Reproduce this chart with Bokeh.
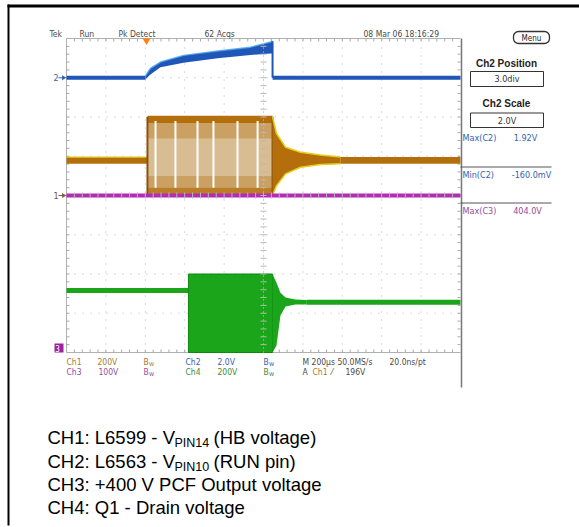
import math
from bokeh.plotting import figure
from bokeh.models import Range1d, ColumnDataSource
from bokeh.embed import file_html
from bokeh.resources import INLINE
from bokeh.core.properties import value

# ---------------- values ----------------
# time in µs (200 µs/div, 10 div), amplitude in screen divisions (0 = centre, ±4 div)
time_div_us = 200
grid_x_ticks = [200, 400, 600, 800, 1000, 1200, 1400, 1600, 1800]
grid_y_ticks = [-3, -2, -1, 0, 1, 2, 3]
trigger_t = 406

# CH2 - L6563 RUN pin (blue)
ch2_level = 3.0
ch2_rise_t = [401, 426, 477, 594, 767, 934, 1036, 1046]
ch2_rise_hi = [3.05, 3.24, 3.40, 3.57, 3.68, 3.78, 3.91, 3.93]
ch2_rise_lo = [2.96, 3.08, 3.27, 3.38, 3.50, 3.58, 3.62, 3.62]

# CH1 - L6599 half-bridge voltage (orange)
ch1_ground = 0.0
ch1_idle_hi = 0.98
ch1_idle_lo = 0.81
ch1_burst_t = [411, 1046]
ch1_burst_lo, ch1_burst_hi = 0.0, 2.0
ch1_gap_t = [452, 553, 665, 746, 868, 970]
ch1_ring_t = [1046, 1066, 1112, 1188, 1289, 1391]
ch1_ring_hi = [2.0, 1.58, 1.23, 1.10, 1.03, 0.98]
ch1_ring_lo = [0.0, 0.25, 0.55, 0.72, 0.79, 0.81]

# CH3 - +400 V PFC output (magenta)
ch3_level = 0.0

# CH4 - Q1 drain voltage (green)
ch4_idle_level = -2.42
ch4_burst_t = [619, 1046]
ch4_burst_lo, ch4_burst_hi = -4.0, -2.0
ch4_ring_t = [1046, 1066, 1086, 1112, 1162, 1220]
ch4_ring_hi = [-2.0, -2.22, -2.48, -2.60, -2.65, -2.66]
ch4_ring_lo = [-4.0, -3.82, -3.06, -2.83, -2.78, -2.78]
ch4_after_level = -2.72

# readout texts
status_texts = ["Tek", "Run", "Pk Detect", "62 Acqs", "08 Mar 06 18:16:29"]
row1_texts = ["Ch1", "200V", "B", "Ch2", "2.0V", "B", "M 200\u00b5s 50.0MS/s", "20.0ns/pt"]
row2_texts = ["Ch3", "100V", "B", "Ch4", "200V", "B", "A", "Ch1", "\u2044", "196V"]
panel_titles = ["Ch2 Position", "Ch2 Scale"]
panel_values = ["3.0div", "2.0V"]
meas_names = ["Max(C2)", "Min(C2)", "Max(C3)"]
meas_values = ["1.92V", "-160.0mV", "404.0V"]
caption_main = ["CH1: L6599 - V", "CH2: L6563 - V", "CH3: +400 V PCF Output voltage", "CH4: Q1 - Drain voltage"]
caption_sub = ["PIN14", "PIN10"]
caption_tail = ["(HB voltage)", "(RUN pin)"]

# ---------------- colours / layout ----------------
C_BLUE, C_CYAN = "#1f56b8", "#4aa8e8"
C_BROWN, C_TAN, C_YEL, C_DKBR = "#b46e0c", "#d8bc92", "#e4cf1e", "#8c5210"
C_PURP = "#b42cb4"
C_GREEN, C_DKGR = "#1aa51a", "#0c8a0c"
T1, T2, T3, T4, TG = "#a47c34", "#3262b0", "#944ca0", "#3e8a3e", "#4a4a4a"
NARROW = "Liberation Sans Narrow, DejaVu Sans Condensed, Liberation Sans, sans-serif"
SANS = "Liberation Sans, Arial, sans-serif"

W, H = 579, 527
OX, OY = 0, 0
GL, GR, GT, GB = 66, 460, 38, 352

p = figure(width=W, height=H, x_range=Range1d(OX, OX + W), y_range=Range1d(OY + H, OY),
           min_border=0, toolbar_location=None, output_backend="svg",
           x_axis_type=None, y_axis_type=None, outline_line_color=None)
p.background_fill_color = "white"
p.border_fill_color = "white"

t_span = 10 * time_div_us
tpp = t_span / (GR - GL)
vpp = 8.0 / (GB - GT)
p.extra_x_ranges = {"t": Range1d(0 - (GL - OX) * tpp, t_span + (OX + W - GR) * tpp)}
p.extra_y_ranges = {"v": Range1d(-4 - (OY + H - GB) * vpp, 4 + (GT - OY) * vpp)}
TV = dict(x_range_name="t", y_range_name="v")

# ---- graticule ----
GCOL = "#b4b4b4"
p.segment(x0=grid_x_ticks, y0=[-4] * len(grid_x_ticks), x1=grid_x_ticks, y1=[4] * len(grid_x_ticks),
          line_color=GCOL, line_width=1, line_dash="1 7", **TV)
p.segment(x0=[0] * len(grid_y_ticks), y0=grid_y_ticks, x1=[t_span] * len(grid_y_ticks), y1=grid_y_ticks,
          line_color=GCOL, line_width=1, line_dash="1 7", **TV)
p.segment(x0=[0, 0, 0], y0=[4, -4, -4], x1=[t_span, t_span, 0], y1=[4, -4, 4],
          line_color="#b0b0b0", line_width=1, **TV)
t_minor = [time_div_us / 5 * k for k in range(1, 50)]
v_minor = [-4 + 0.2 * k for k in range(1, 40)]
p.segment(x0=t_minor, y0=[GT] * len(t_minor), x1=t_minor, y1=[GT + 3] * len(t_minor),
          line_color="#a8a8a8", x_range_name="t")
p.segment(x0=t_minor, y0=[GB] * len(t_minor), x1=t_minor, y1=[GB - 3] * len(t_minor),
          line_color="#a8a8a8", x_range_name="t")
p.segment(x0=[GL] * len(v_minor), y0=v_minor, x1=[GL + 3] * len(v_minor), y1=v_minor,
          line_color="#a8a8a8", y_range_name="v")
p.segment(x0=[GR] * len(v_minor), y0=v_minor, x1=[GR - 3] * len(v_minor), y1=v_minor,
          line_color="#a8a8a8", y_range_name="v")

# ---- CH2 (blue) ----
p.line(x=[0, ch2_rise_t[0]], y=[ch2_level, ch2_level], line_color=C_BLUE, line_width=4, **TV)
p.line(x=[ch2_rise_t[-1], t_span], y=[ch2_level, ch2_level], line_color=C_BLUE, line_width=4, **TV)
p.varea(x=ch2_rise_t, y1=ch2_rise_lo, y2=ch2_rise_hi, fill_color=C_BLUE, **TV)
p.line(x=ch2_rise_t, y=ch2_rise_hi, line_color=C_CYAN, line_width=1.5, line_alpha=0.8, **TV)
p.segment(x0=[ch2_rise_t[-1]], y0=[ch2_rise_hi[-1]], x1=[ch2_rise_t[-1]], y1=[ch2_level],
          line_color=C_BLUE, line_width=2, **TV)

# ---- CH1 (orange) ----
p.varea(x=[0, ch1_burst_t[0]], y1=[ch1_idle_lo] * 2, y2=[ch1_idle_hi] * 2, fill_color=C_BROWN, **TV)
p.line(x=[0, ch1_burst_t[0]], y=[ch1_idle_hi] * 2, line_color=C_YEL, line_width=1.2, **TV)
p.quad(left=[ch1_burst_t[0]], right=[ch1_burst_t[1]], bottom=[ch1_burst_lo], top=[ch1_burst_hi],
       fill_color=C_TAN, line_color=None, **TV)
# darker switching texture in the upper and lower parts of the burst
p.quad(left=[ch1_burst_t[0]] * 2, right=[ch1_burst_t[1]] * 2,
       bottom=[ch1_burst_hi - 0.55, ch1_burst_lo + 0.2], top=[ch1_burst_hi - 0.15, ch1_burst_lo + 0.5],
       fill_color=C_BROWN, fill_alpha=0.35, line_color=None, **TV)
p.quad(left=[ch1_burst_t[0]], right=[ch1_burst_t[1]], bottom=[ch1_burst_hi - 0.15], top=[ch1_burst_hi + 0.03],
       fill_color=C_BROWN, line_color=None, **TV)
p.quad(left=[ch1_burst_t[0]], right=[ch1_burst_t[1]], bottom=[ch1_burst_lo], top=[ch1_burst_lo + 0.2],
       fill_color=C_BROWN, fill_alpha=0.8, line_color=None, **TV)
p.segment(x0=[ch1_burst_t[0], ch1_burst_t[1]], y0=[ch1_burst_lo] * 2, x1=[ch1_burst_t[0], ch1_burst_t[1]],
          y1=[ch1_burst_hi] * 2, line_color=C_DKBR, line_width=2, **TV)
p.segment(x0=ch1_gap_t, y0=[ch1_burst_lo + 0.2] * len(ch1_gap_t), x1=ch1_gap_t,
          y1=[ch1_burst_hi - 0.1] * len(ch1_gap_t), line_color="white", line_width=2, **TV)
p.varea(x=ch1_ring_t, y1=ch1_ring_lo, y2=ch1_ring_hi, fill_color=C_BROWN, **TV)
p.line(x=ch1_ring_t, y=ch1_ring_hi, line_color=C_YEL, line_width=1.5, **TV)
p.line(x=ch1_ring_t, y=ch1_ring_lo, line_color=C_YEL, line_width=1.5, **TV)
p.varea(x=[ch1_ring_t[-1], t_span], y1=[ch1_idle_lo] * 2, y2=[ch1_idle_hi] * 2, fill_color=C_BROWN, **TV)

# ---- CH3 (magenta) ----
p.line(x=[0, t_span], y=[ch3_level, ch3_level], line_color=C_PURP, line_width=4, **TV)

# ---- CH4 (green) ----
p.line(x=[0, ch4_burst_t[0]], y=[ch4_idle_level] * 2, line_color=C_GREEN, line_width=5, **TV)
p.quad(left=[ch4_burst_t[0]], right=[ch4_burst_t[1]], bottom=[ch4_burst_lo], top=[ch4_burst_hi],
       fill_color=C_GREEN, line_color=C_DKGR, line_width=1, **TV)
p.varea(x=ch4_ring_t, y1=ch4_ring_lo, y2=ch4_ring_hi, fill_color=C_GREEN, **TV)
p.line(x=[ch4_ring_t[-1], t_span], y=[ch4_after_level] * 2, line_color=C_GREEN, line_width=5, **TV)

# ---- centre cross drawn over traces ----
p.segment(x0=[t_span / 2], y0=[-4], x1=[t_span / 2], y1=[4], line_color="#c8c8c8", line_dash="1 3", **TV)
p.scatter(x=[t_span / 2] * len(v_minor), y=v_minor, marker="dash", size=6, line_color="#b8b8b8", **TV)
p.scatter(x=t_minor, y=[0] * len(t_minor), marker="dash", angle=math.pi / 2, size=6,
          line_color="#b8b8b8", **TV)

# trigger marker and channel ground markers
p.scatter(x=[trigger_t], y=[GT + 2], marker="inverted_triangle", size=8, fill_color="#ff7f10",
          line_color=None, x_range_name="t")
p.scatter(x=[GL - 3, GL - 3], y=[ch2_level, ch1_ground], marker="triangle", angle=-math.pi / 2, size=5,
          fill_color=[T2, "#7a6040"], line_color=None, y_range_name="v")
p.segment(x0=[GL - 8, GL - 8], y0=[ch2_level, ch1_ground], x1=[GL - 3, GL - 3], y1=[ch2_level, ch1_ground],
          line_color=[T2, "#7a6040"], y_range_name="v")
p.text(x=[GL - 13, GL - 13], y=[ch2_level, ch1_ground], text=["2", "1"], text_color=[T2, "#6a5a40"],
       text_font=value(NARROW), text_font_size="9px", text_baseline="middle", y_range_name="v")
p.rect(x=[GL - 7.5], y=[GB - 4.5], width=9, height=9, fill_color="#a020a0", line_color=None)
p.text(x=[GL - 9], y=[GB - 4.5], text=["3"], text_color="white", text_font=value(NARROW),
       text_font_size="8px", text_baseline="middle", text_align="center")

# ---- readouts ----
def texts(xs, ys, ts, colors, size="9px", font=NARROW, align="left", style="normal"):
    src = ColumnDataSource(dict(x=xs, y=ys, text=ts, color=colors))
    p.text(x="x", y="y", text="text", text_color="color", source=src, text_font=value(font),
           text_font_size=size, text_align=align, text_baseline="middle", text_font_style=style)

texts([49, 79, 118, 204, 363], [33] * 5, status_texts, [TG] * 5, size="8.5px")
texts([66, 97, 143, 185, 217, 263, 302, 389], [361] * 8, row1_texts,
      [T1, T1, T1, T2, T2, T2, TG, TG], size="8.5px")
texts([66, 98, 143, 185, 217, 263, 302, 312, 331, 345], [371] * 10, row2_texts,
      [T3, T3, T3, T4, T4, T4, TG, T1, TG, TG], size="8.5px")
# subscript "w" of the bandwidth-limit marks
texts([148.5, 268.5, 148.5, 268.5], [363, 363, 373, 373], ["w"] * 4, [T1, T2, T3, T4], size="7px")

# right-hand panel
p.segment(x0=[GR + 1], y0=[GT], x1=[GR + 1], y1=[387], line_color="#777777", line_width=1.5)
p.quad(left=[513], right=[549], top=[31], bottom=[43], border_radius=5, fill_color="white",
       line_color="#333333", line_width=1.3)
texts([531], [37.5], ["Menu"], ["#222222"], size="8px", align="center")
texts([506, 506], [62.5, 103], panel_titles, ["#222222"] * 2, size="10px", font=SANS,
      align="center", style="bold")
p.quad(left=[470, 470], right=[543, 543], top=[71, 112.5], bottom=[86, 127], fill_color="white",
       line_color="#333333", line_width=1)
texts([506.5, 506.5], [78.5, 120], panel_values, ["#333333"] * 2, align="center")
p.segment(x0=[GR, GR], y0=[166.5, 202.5], x1=[551, 551], y1=[166.5, 202.5], line_color="#555555", line_width=1)
texts([462, 462, 462], [137, 174, 210], meas_names, [T2, T2, T3])
texts([525, 531, 527], [137, 174, 210], meas_values, [T2, T2, T3], align="center")

# page frame (black)
p.segment(x0=[7, 8], y0=[5.5, 4], x1=[W, 8], y1=[5.5, 525],
          line_color="black", line_width=[3, 2])

# caption
CAP_X, CAP_Y = 47, [437, 461, 484, 507]
texts([CAP_X] * 4, CAP_Y, caption_main, ["black"] * 4, size="18.5px", font=SANS)
texts([174, 174], [CAP_Y[0] + 5, CAP_Y[1] + 5], caption_sub, ["black"] * 2, size="12.5px", font=SANS)
texts([213, 213], CAP_Y[:2], caption_tail, ["black"] * 2, size="18.5px", font=SANS)

open("out.html", "w").write(file_html(p, INLINE))
